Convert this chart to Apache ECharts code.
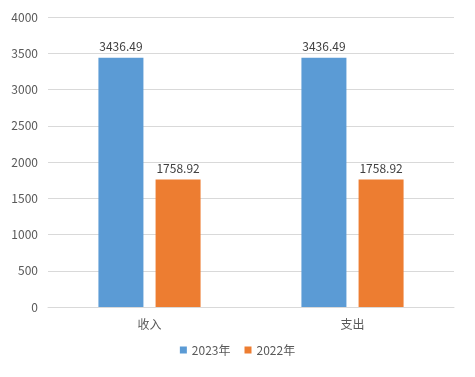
<!DOCTYPE html>
<html><head><meta charset="utf-8">
<script src="https://cdn.jsdelivr.net/npm/echarts@6/dist/echarts.min.js"></script>
<style>html,body{margin:0;padding:0;background:#fff}#c{width:475px;height:377px}</style>
</head><body><div id="c"></div>
<script>
const categories = ['收入', '支出'];
const seriesNames = ['2023年', '2022年'];
const values2023 = [3436.49, 3436.49];
const values2022 = [1758.92, 1758.92];
const yTicks = [0, 500, 1000, 1500, 2000, 2500, 3000, 3500, 4000];

const font = '"Noto Sans CJK SC", "Noto Sans", sans-serif';
const chart = echarts.init(document.getElementById('c'), null, {renderer: 'canvas'});
chart.setOption({
  animation: false,
  textStyle: {fontFamily: font},
  grid: {left: 48, right: 21, top: 17, bottom: 70, containLabel: false},
  legend: {
    bottom: 16, left: 'center', itemWidth: 7, itemHeight: 7, itemGap: 14,
    icon: 'rect',
    textStyle: {color: '#595959', fontSize: 12, fontFamily: font},
    data: seriesNames
  },
  xAxis: {
    type: 'category', data: categories,
    axisLine: {lineStyle: {color: '#d9d9d9'}},
    axisTick: {show: false},
    axisLabel: {color: '#595959', fontSize: 12, margin: 11, fontFamily: font}
  },
  yAxis: {
    type: 'value', min: yTicks[0], max: yTicks[yTicks.length - 1], interval: 500,
    axisLine: {show: false}, axisTick: {show: false},
    splitLine: {lineStyle: {color: '#d9d9d9'}},
    axisLabel: {color: '#595959', fontSize: 12, margin: 10, fontFamily: font,
                formatter: v => String(v)}
  },
  series: [
    {name: seriesNames[0], type: 'bar', data: values2023, barWidth: 45, barGap: '27%',
     itemStyle: {color: '#5B9BD5'},
     label: {show: true, position: 'top', color: '#404040', fontSize: 12, distance: 5, fontFamily: font}},
    {name: seriesNames[1], type: 'bar', data: values2022, barWidth: 45,
     itemStyle: {color: '#ED7D31'},
     label: {show: true, position: 'top', color: '#404040', fontSize: 12, distance: 5, fontFamily: font}}
  ]
});
</script></body></html>
